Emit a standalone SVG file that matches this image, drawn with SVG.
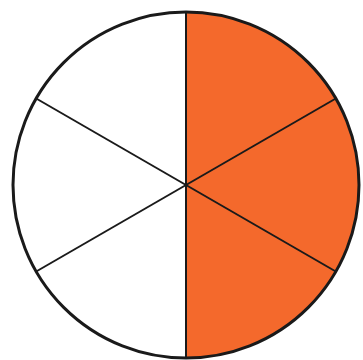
<svg xmlns="http://www.w3.org/2000/svg" width="363" height="360" viewBox="0 0 363 360">
<style>
.ln{stroke:#1a1a1a;stroke-width:2;fill:none}
</style>
<rect width="363" height="360" fill="#ffffff"/>
<g id="circle">
<path d="M186,12 A173,173 0 0,1 186,358 Z" fill="#f4692c"/>
<circle cx="186" cy="185" r="173" fill="none" stroke="#1a1a1a" stroke-width="3"/>
</g>
<g id="connectors">
<line class="ln" x1="186" y1="12" x2="186" y2="358"/>
<line class="ln" x1="36.2" y1="98.5" x2="335.8" y2="271.5"/>
<line class="ln" x1="36.2" y1="271.5" x2="335.8" y2="98.5"/>
</g>
</svg>
